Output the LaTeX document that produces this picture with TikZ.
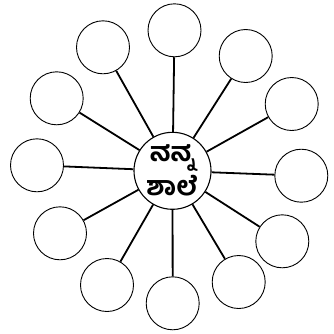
\documentclass[tikz,border=0pt]{standalone}
\usepackage{fontspec}
\newfontfamily\kanfont[Script=Kannada,UprightFont={* Bold}]{Hind Mysuru}
\begin{document}
\begin{tikzpicture}[x=1pt,y=-1pt,
  outer/.style={circle,draw,line width=0.9pt,minimum size=53pt,inner sep=0pt},
  hub/.style={circle,draw,line width=1.1pt,minimum size=77pt,inner sep=0pt,align=center,font=\kanfont\fontsize{26}{34}\selectfont},
  spoke/.style={line width=1.8pt}]
\useasboundingbox (0,0) rectangle (334,333);
\node[hub] (c) at (172.5,170.8) {ನನ್ನ\\ಶಾಲೆ};
\node[outer] (o1) at (174.5,30.3) {};
\node[outer] (o2) at (245.7,56) {};
\node[outer] (o3) at (291.7,104) {};
\node[outer] (o4) at (301.3,175.7) {};
\node[outer] (o5) at (282.3,241.3) {};
\node[outer] (o6) at (238.7,282) {};
\node[outer] (o7) at (172.7,303.3) {};
\node[outer] (o8) at (107,285) {};
\node[outer] (o9) at (60,233.3) {};
\node[outer] (o10) at (37,165.3) {};
\node[outer] (o11) at (56.7,98.3) {};
\node[outer] (o12) at (103,47.3) {};
\foreach \i in {1,...,12}{\draw[spoke] (c) -- (o\i);}
\end{tikzpicture}
\end{document}
